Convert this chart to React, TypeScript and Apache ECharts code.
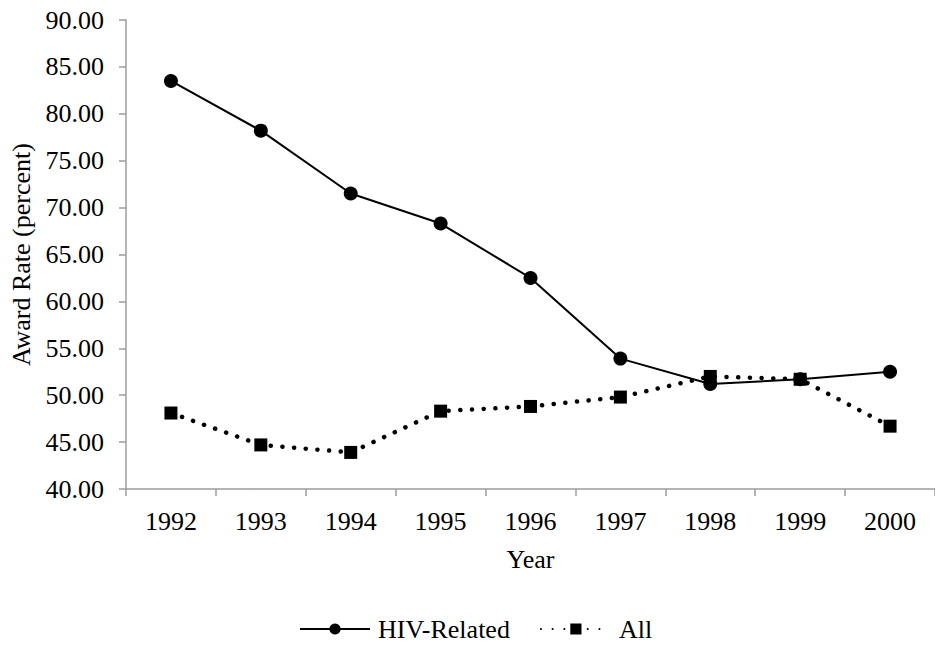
import React, { useEffect, useRef } from "react";
import * as echarts from "echarts";

const years = ["1992", "1993", "1994", "1995", "1996", "1997", "1998", "1999", "2000"];
const hivRelated = [83.5, 78.2, 71.5, 68.3, 62.5, 53.9, 51.2, 51.7, 52.5];
const allAwards = [48.1, 44.7, 43.9, 48.3, 48.8, 49.8, 52.0, 51.7, 46.7];
const seriesNames = ["HIV-Related", "All"];

const FONT = "'Liberation Serif', 'Times New Roman', serif";
const FS = 26;
const AXIS_COLOR = "#9c9c9c";

export default function App() {
  const ref = useRef<HTMLDivElement>(null);
  useEffect(() => {
    if (!ref.current) return;
    const chart = echarts.init(ref.current, undefined, { renderer: "svg" });
    const txt = { fontFamily: FONT, fontSize: FS, color: "#000" };
    chart.setOption({
      animation: false,
      backgroundColor: "#ffffff",
      textStyle: { fontFamily: FONT, color: "#000" },
      grid: { left: 126, top: 20, bottom: 156, right: -5, containLabel: false },
      legend: {
        left: 299,
        top: 616,
        padding: 0,
        itemWidth: 70,
        itemHeight: 14,
        itemGap: 30,
        textStyle: { ...txt, padding: [0, 0, 0, 3] },
        data: seriesNames,
      },
      xAxis: {
        type: "category",
        data: years,
        boundaryGap: true,
        name: "Year",
        nameLocation: "middle",
        nameGap: 57,
        nameTextStyle: { ...txt },
        axisLine: { show: true, lineStyle: { color: AXIS_COLOR, width: 1.5 } },
        axisTick: { show: true, length: 7, alignWithLabel: false, lineStyle: { color: AXIS_COLOR, width: 1.5 } },
        axisLabel: { ...txt, margin: 19 },
        splitLine: { show: false },
      },
      yAxis: {
        type: "value",
        min: 40,
        max: 90,
        interval: 5,
        name: "Award Rate (percent)",
        nameLocation: "middle",
        nameGap: 92,
        nameTextStyle: { ...txt },
        axisLine: { show: true, lineStyle: { color: AXIS_COLOR, width: 1.5 } },
        axisTick: { show: true, length: 7, lineStyle: { color: AXIS_COLOR, width: 1.5 } },
        axisLabel: {
          ...txt,
          margin: 22,
          formatter: (v: number) => v.toFixed(2),
        },
        splitLine: { show: false },
      },
      series: [
        {
          name: seriesNames[0],
          type: "line",
          data: hivRelated,
          symbol: "circle",
          symbolSize: 14,
          itemStyle: { color: "#000" },
          lineStyle: { color: "#000", width: 2 },
        },
        {
          name: seriesNames[1],
          type: "line",
          data: allAwards,
          symbol: "rect",
          symbolSize: 13,
          itemStyle: { color: "#000" },
          lineStyle: { color: "#000", width: 4.5, type: [0.1, 11.6], cap: "round" },
        },
      ],
    });
    return () => chart.dispose();
  }, []);
  return (
    <div
      ref={ref}
      style={{ position: "fixed", left: 0, top: 0, width: 935, height: 645, overflow: "hidden" }}
    />
  );
}
